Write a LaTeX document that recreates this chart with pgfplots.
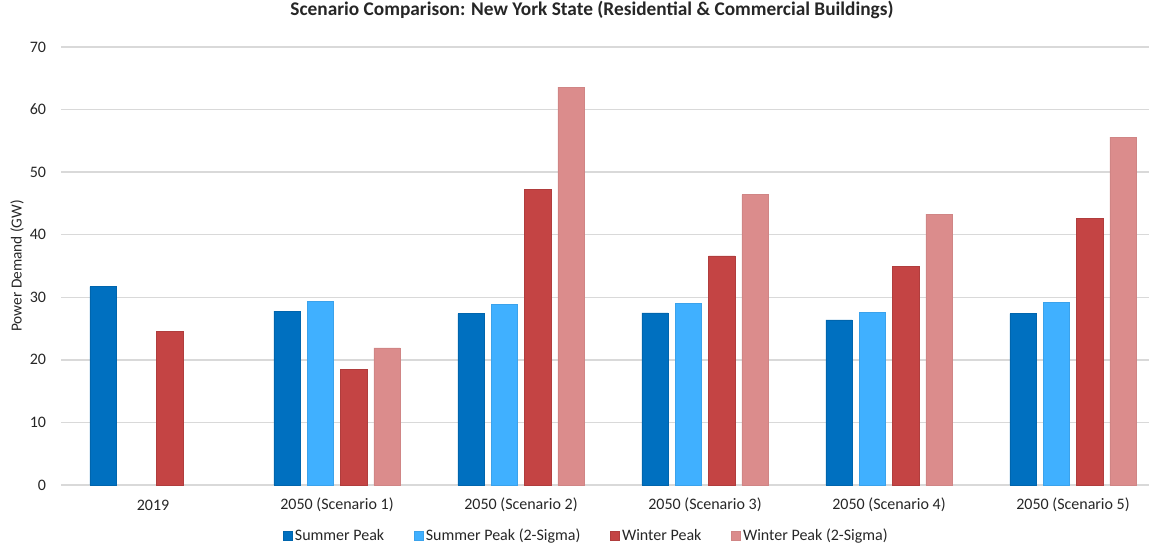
\documentclass[border=0pt]{standalone}
\usepackage{pgfplots}
\pgfplotsset{compat=1.18}
\usepackage{fontspec}
\setmainfont{Carlito}

\definecolor{sumpk}{HTML}{0070C0}
\definecolor{sumsig}{HTML}{40B0FF}
\definecolor{winpk}{HTML}{C44444}
\definecolor{winsig}{HTML}{DB8C8C}
\definecolor{gridgray}{HTML}{D9D9D9}

\begin{document}
\begin{tikzpicture}
\useasboundingbox (0,0) rectangle (869.25pt,409.5pt);
\begin{axis}[
  at={(45.75pt,45.75pt)}, anchor=south west,
  scale only axis, width=816pt, height=328.5pt,
  ymin=0, ymax=70, ytick={0,10,...,70},
  xmin=-0.5, xmax=5.413, xtick={0,1,2,3,4,5},
  xticklabels={2019, 2050 (Scenario 1), 2050 (Scenario 2), 2050 (Scenario 3), 2050 (Scenario 4), 2050 (Scenario 5)},
  ybar=5.35pt, bar width=19.7pt,
  axis line style={draw=none}, major tick length=0pt,
  ymajorgrids, grid style={color=gridgray, line width=1.1pt},
  /pgf/number format/assume math mode=true,
  tick label style={font=\fontsize{12}{14}\selectfont, text=black!85},
  xticklabel style={anchor=center, yshift=-15pt},
  yticklabel style={anchor=east, inner sep=0pt, xshift=-11pt},
  ylabel={Power Demand (GW)},
  every axis y label/.style={at={(axis description cs:0,0.5)}, xshift=-33pt, rotate=90, anchor=center, font=\fontsize{11.5}{13}\selectfont, text=black!85},
  title={Scenario Comparison: New York State (Residential \& Commercial Buildings)},
  title style={at={(axis description cs:0.488,1)}, anchor=center, yshift=21.75pt, font=\bfseries\fontsize{14.5}{17}\selectfont, text=black!85},
  legend columns=4,
  legend style={at={(axis description cs:0.483,0)}, anchor=center, yshift=-38.25pt, draw=none, fill=none,
    font=\fontsize{12}{14}\selectfont, text=black!85,
    /tikz/every even column/.append style={column sep=20pt}},
  legend image code/.code={\fill[#1] (0pt,-3.3pt) rectangle (6.8pt,3.3pt);},
]
\addplot[fill=sumpk, draw=sumpk!90!black, line width=0.4pt] coordinates {(0,31.7) (1,27.8) (2,27.4) (3,27.5) (4,26.4) (5,27.4)};
\addplot[fill=sumsig, draw=sumsig!92!black, line width=0.4pt] coordinates {(1,29.3) (2,28.9) (3,29.05) (4,27.6) (5,29.2)};
\addplot[fill=winpk, draw=winpk!90!black, line width=0.4pt] coordinates {(0,24.6) (1,18.5) (2,47.2) (3,36.6) (4,34.9) (5,42.6)};
\addplot[fill=winsig, draw=winsig!95!black, line width=0.4pt] coordinates {(1,21.9) (2,63.6) (3,46.4) (4,43.3) (5,55.6)};
\legend{Summer Peak, Summer Peak (2-Sigma), Winter Peak, Winter Peak (2-Sigma)}
\end{axis}
\end{tikzpicture}
\end{document}
